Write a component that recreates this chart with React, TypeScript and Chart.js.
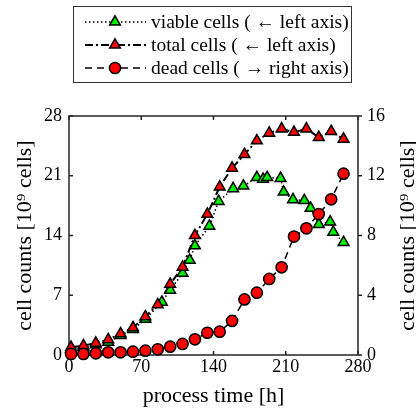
import React, { useEffect, useRef } from "react";
import { Chart, registerables } from "chart.js";

Chart.register(...registerables);

// ---- data ----
const xTicks = [0, 70, 140, 210, 280];
const leftTicks = [0, 7, 14, 21, 28];
const rightTicks = [0, 4, 8, 12, 16];

const totalTimes = [2, 14, 26, 38, 50, 62, 74, 86, 98, 110, 122, 134, 146, 158, 170, 182, 194, 206, 218, 230, 242, 254, 266];
const totalCells = [0.9, 1.1, 1.4, 1.8, 2.5, 3.2, 4.5, 5.9, 8.3, 10.3, 14.0, 16.5, 19.7, 21.9, 23.5, 25.1, 26.0, 26.5, 26.1, 26.5, 25.5, 26.2, 25.3];

const deadTimes = [2, 14, 26, 38, 50, 62, 74, 86, 98, 110, 122, 134, 146, 158, 170, 182, 194, 206, 218, 230, 242, 254, 266];
const deadCells = [0.07, 0.07, 0.11, 0.18, 0.18, 0.22, 0.29, 0.38, 0.56, 0.74, 1.05, 1.49, 1.56, 2.28, 3.72, 4.17, 5.09, 5.87, 7.93, 8.48, 9.44, 10.42, 12.14];

const viableTimes = [2, 14, 26, 38, 50, 62, 74, 90, 98, 110, 117, 122, 136, 145, 159, 169, 182, 188, 192, 205, 208, 217, 228, 234, 242, 253, 256, 266];
const viableCells = [0.7, 0.9, 1.2, 1.5, 2.3, 3.0, 4.2, 6.2, 7.6, 9.6, 11.1, 12.8, 15.1, 18.0, 19.5, 19.8, 20.8, 20.6, 20.8, 20.7, 19.1, 18.2, 18.1, 17.2, 15.3, 15.6, 14.4, 13.2];

const legendLabels = ["viable cells ( \u2190 left axis)", "total cells ( \u2190 left axis)", "dead cells ( \u2192 right axis)"];
const xTitle = "process time [h]";
const yTitle = "cell counts [10\u2079 cells]";

const FONT = "'Liberation Serif', 'Times New Roman', serif";
const RED = "#ff0000";
const GREEN = "#00ee00";
const AXIS = "#262626";
const TRI_R = 6.2;
const CIRC_R = 5.6;

const toXY = (xs: number[], ys: number[]) => xs.map((x, i) => ({ x, y: ys[i] }));

function drawMarker(ctx: CanvasRenderingContext2D, style: string, x: number, y: number, r: number, fill: string) {
  ctx.save();
  ctx.setLineDash([]);
  ctx.beginPath();
  if (style === "circle") {
    ctx.arc(x, y, r, 0, Math.PI * 2);
  } else {
    let rad = 0;
    ctx.moveTo(x + Math.sin(rad) * r, y - Math.cos(rad) * r);
    rad += (2 * Math.PI) / 3;
    ctx.lineTo(x + Math.sin(rad) * r, y - Math.cos(rad) * r);
    rad += (2 * Math.PI) / 3;
    ctx.lineTo(x + Math.sin(rad) * r, y - Math.cos(rad) * r);
    ctx.closePath();
  }
  ctx.fillStyle = fill;
  ctx.fill();
  ctx.lineWidth = 1.5;
  ctx.strokeStyle = "#000";
  ctx.stroke();
  ctx.restore();
}

const framePlugin = {
  id: "frameTicks",
  beforeDatasetsDraw(chart: any) {
    const ctx = chart.ctx as CanvasRenderingContext2D;
    const { left, right, top, bottom } = chart.chartArea;
    const xs = chart.scales.x;
    const ys = chart.scales.y;
    const y1 = chart.scales.y1;
    ctx.save();
    ctx.strokeStyle = AXIS;
    ctx.lineWidth = 1.5;
    ctx.strokeRect(left, top, right - left, bottom - top);
    const tl = 4;
    ctx.beginPath();
    xTicks.forEach((v) => {
      const px = xs.getPixelForValue(v);
      ctx.moveTo(px, bottom);
      ctx.lineTo(px, bottom - tl);
      ctx.moveTo(px, top);
      ctx.lineTo(px, top + tl);
    });
    leftTicks.forEach((v) => {
      const py = ys.getPixelForValue(v);
      ctx.moveTo(left, py);
      ctx.lineTo(left + tl, py);
    });
    rightTicks.forEach((v) => {
      const py = y1.getPixelForValue(v);
      ctx.moveTo(right, py);
      ctx.lineTo(right + tl, py);
    });
    ctx.stroke();
    ctx.restore();
  },
  afterDraw(chart: any) {
    const ctx = chart.ctx as CanvasRenderingContext2D;
    const { top, bottom } = chart.chartArea;
    ctx.save();
    // right axis title (reads bottom-to-top, clipped by canvas edge)
    ctx.translate(408, (top + bottom) / 2);
    ctx.rotate(-Math.PI / 2);
    ctx.font = `22px ${FONT}`;
    ctx.fillStyle = "#000";
    ctx.textAlign = "center";
    ctx.textBaseline = "middle";
    ctx.fillText(yTitle, 0, 0);
    ctx.restore();

    // legend
    ctx.save();
    ctx.strokeStyle = "#333";
    ctx.lineWidth = 1;
    ctx.strokeRect(73.5, 6.5, 278, 76);
    const rows = [22, 45, 68];
    const dashes = [[1.5, 2.5], [8, 3, 2, 3], [7, 5]];
    const widths = [1.5, 2, 1.5];
    const markers = ["triangle", "triangle", "circle"];
    const fills = [GREEN, RED, RED];
    rows.forEach((ry, i) => {
      ctx.beginPath();
      ctx.setLineDash(dashes[i]);
      ctx.lineWidth = widths[i];
      ctx.strokeStyle = "#000";
      ctx.moveTo(85, ry);
      ctx.lineTo(146, ry);
      ctx.stroke();
      drawMarker(ctx, markers[i], 115, ry, markers[i] === "circle" ? CIRC_R : TRI_R, fills[i]);
      ctx.setLineDash([]);
      ctx.font = `19.5px ${FONT}`;
      ctx.fillStyle = "#000";
      ctx.textAlign = "left";
      ctx.textBaseline = "middle";
      ctx.fillText(legendLabels[i], 151, ry + 1);
    });
    ctx.restore();
  },
};

export default function App() {
  const ref = useRef<HTMLCanvasElement | null>(null);

  useEffect(() => {
    document.body.style.margin = "0";
    const canvas = ref.current;
    if (!canvas) return;
    const tickFont = { family: FONT, size: 18 };
    const titleFont = { family: FONT, size: 22 };
    const chart = new Chart(canvas, {
      type: "line",
      data: {
        datasets: [
          {
            label: legendLabels[2],
            data: toXY(deadTimes, deadCells),
            yAxisID: "y1",
            borderColor: "#000",
            borderWidth: 1.5,
            borderDash: [7, 5],
            pointStyle: "circle",
            pointRadius: CIRC_R,
            pointBackgroundColor: RED,
            pointBorderColor: "#000",
            pointBorderWidth: 1.5,
            fill: false,
            tension: 0,
            clip: false,
          } as any,
          {
            label: legendLabels[1],
            data: toXY(totalTimes, totalCells),
            yAxisID: "y",
            borderColor: "#000",
            borderWidth: 2,
            borderDash: [8, 3, 2, 3],
            pointStyle: "triangle",
            pointRadius: TRI_R,
            pointBackgroundColor: RED,
            pointBorderColor: "#000",
            pointBorderWidth: 1.5,
            fill: false,
            tension: 0,
            clip: false,
          } as any,
          {
            label: legendLabels[0],
            data: toXY(viableTimes, viableCells),
            yAxisID: "y",
            borderColor: "#000",
            borderWidth: 1.5,
            borderDash: [1.5, 2.5],
            pointStyle: "triangle",
            pointRadius: TRI_R,
            pointBackgroundColor: GREEN,
            pointBorderColor: "#000",
            pointBorderWidth: 1.5,
            fill: false,
            tension: 0,
            clip: false,
          } as any,
        ],
      },
      options: {
        responsive: false,
        animation: false,
        devicePixelRatio: 1,
        layout: { padding: { top: 116, left: 0, right: 0, bottom: 0 } },
        plugins: { legend: { display: false }, tooltip: { enabled: false } },
        scales: {
          x: {
            type: "linear",
            position: "bottom",
            min: xTicks[0],
            max: xTicks[xTicks.length - 1],
            ticks: { stepSize: xTicks[1] - xTicks[0], font: tickFont, color: "#000", padding: 1, maxRotation: 0 },
            grid: { display: false, drawTicks: false },
            border: { display: false },
            title: { display: true, text: xTitle, font: titleFont, color: "#000", padding: { top: 0, bottom: 2 } },
            afterFit: (s: any) => {
              s.height = 56;
            },
          },
          y: {
            type: "linear",
            position: "left",
            min: leftTicks[0],
            max: leftTicks[leftTicks.length - 1],
            ticks: { stepSize: leftTicks[1] - leftTicks[0], font: tickFont, color: "#000", padding: 7 },
            grid: { display: false, drawTicks: false },
            border: { display: false },
            title: { display: true, text: yTitle, font: titleFont, color: "#000", padding: { top: 12, bottom: 0 } },
            afterFit: (s: any) => {
              s.width = 69;
            },
          },
          y1: {
            type: "linear",
            position: "right",
            min: rightTicks[0],
            max: rightTicks[rightTicks.length - 1],
            ticks: { stepSize: rightTicks[1] - rightTicks[0], font: tickFont, color: "#000", padding: 9 },
            grid: { display: false, drawTicks: false },
            border: { display: false },
            afterFit: (s: any) => {
              s.width = 58;
            },
          },
        },
      } as any,
      plugins: [framePlugin],
    });
    return () => chart.destroy();
  }, []);

  return (
    <div style={{ width: 416, height: 411 }}>
      <canvas ref={ref} width={416} height={411} style={{ display: "block" }} />
    </div>
  );
}
